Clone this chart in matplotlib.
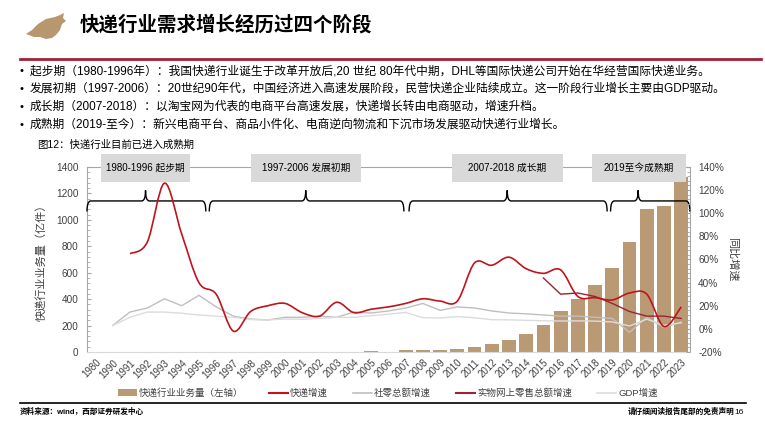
import numpy as np
import matplotlib
matplotlib.use('Agg')
import matplotlib.pyplot as plt
from matplotlib.path import Path
from matplotlib.patches import PathPatch, Patch, Polygon, Rectangle
from matplotlib.lines import Line2D
from matplotlib.ticker import AutoMinorLocator, FuncFormatter

plt.rcParams['font.family'] = ['Liberation Sans', 'Noto Sans CJK SC']

nan = np.nan

years = ['1980', '1990', '1991', '1992', '1993', '1994', '1995', '1996', '1997',
         '1998', '1999', '2000', '2001', '2002', '2003', '2004', '2005', '2006',
         '2007', '2008', '2009', '2010', '2011', '2012', '2013', '2014', '2015',
         '2016', '2017', '2018', '2019', '2020', '2021', '2022', '2023']

# 快递业务量 (亿件)
volume = [nan] * 16 + [9, nan,
          12.0, 15.1, 18.6, 23.4, 36.7, 56.9, 91.9, 139.6, 206.7,
          312.8, 400.6, 507.1, 635.2, 833.6, 1083.0, 1105.8, 1320.7]

# growth rates, %
express_growth = [nan, nan,
                  65, 75, 126, 82, 40, 30, -2,
                  15, 20, 22, 14, 11, 23, 14, 17, 19,
                  22, 26, 24, 24, 57, 55, 62, 52, 48,
                  51, 28, 27, 25, 31, 30, 2, 19]
retail_growth = [nan,
                 3, 14.6, 18, 26, 20, 29, 19, 11,
                 8.5, 7.7, 10, 10, 11, 10, 14.6, 13.7, 15.5,
                 18, 22, 16, 19, 18, 15.5, 13.7, 13, 12,
                 11, 11, 10, 9, -3, 10, 1, 6]
online_growth = [nan] * 26 + [44, 30, 31, 28, 22, 15, 11, 11, 9]
gdp_growth = [nan,
              3, 10, 14.5, 14.5, 13.5, 12, 11, 10,
              8, 7.7, 8.5, 8.3, 9, 10, 10, 11.4, 12.7,
              14.2, 9.7, 9.4, 10.6, 9.6, 7.9, 7.8, 7.4, 7,
              6.8, 6.9, 6.7, 6, 2.5, 8.4, 3, 5.2]

stage_labels = ['1980-1996 起步期', '1997-2006 发展初期', '2007-2018 成长期', '2019至今成熟期']

bullets = [
    '起步期（1980-1996年）：我国快递行业诞生于改革开放后,20 世纪 80年代中期，DHL等国际快递公司开始在华经营国际快递业务。',
    '发展初期（1997-2006）：20世纪90年代，中国经济进入高速发展阶段，民营快递企业陆续成立。这一阶段行业增长主要由GDP驱动。',
    '成长期（2007-2018）：以淘宝网为代表的电商平台高速发展，快递增长转由电商驱动，增速升档。',
    '成熟期（2019-至今）：新兴电商平台、商品小件化、电商逆向物流和下沉市场发展驱动快递行业增长。',
]

TAN = '#BA9A74'
RED = '#C0141C'
DARKRED = '#9B2335'
GRAY = '#BFBFBF'
LIGHT = '#DCDCDC'
TXT = '#404040'


def smooth_path(xs, ys):
    # catmull-rom style bezier through the points, like excel's smoothed line
    pts = [(x, y) for x, y in zip(xs, ys) if not np.isnan(y)]
    verts = [pts[0]]
    codes = [Path.MOVETO]
    n = len(pts)
    for i in range(n - 1):
        p0 = pts[i - 1] if i > 0 else pts[i]
        p1 = pts[i]
        p2 = pts[i + 1]
        p3 = pts[i + 2] if i + 2 < n else pts[i + 1]
        c1 = (p1[0] + (p2[0] - p0[0]) / 6, p1[1] + (p2[1] - p0[1]) / 6)
        c2 = (p2[0] - (p3[0] - p1[0]) / 6, p2[1] - (p3[1] - p1[1]) / 6)
        verts += [c1, c2, p2]
        codes += [Path.CURVE4] * 3
    return Path(verts, codes)


def brace(ax, x0, x1, xm, y, h, dx=0.22):
    verts = [(x0, y - h), (x0, y), (x0 + dx, y),
             (xm - dx, y), (xm, y), (xm, y + h),
             (xm, y), (xm + dx, y),
             (x1 - dx, y), (x1, y), (x1, y - h)]
    codes = [Path.MOVETO, Path.CURVE3, Path.CURVE3,
             Path.LINETO, Path.CURVE3, Path.CURVE3,
             Path.CURVE3, Path.CURVE3,
             Path.LINETO, Path.CURVE3, Path.CURVE3]
    ax.add_patch(PathPatch(Path(verts, codes), fill=False, lw=1.0,
                           edgecolor='black', clip_on=False, zorder=5))


W, H = 765, 425
fig = plt.figure(figsize=(7.65, 4.25), dpi=100)

# header
logo = [(26, 34), (32, 30), (38, 24), (46, 19), (55, 17), (60, 15), (64, 13), (63, 18),
        (66, 21), (62, 24), (60, 30), (56, 35), (52, 38), (46, 39), (40, 37), (34, 37)]
fig.patches.append(Polygon([(a / W, 1 - b / H) for a, b in logo], closed=True,
                           transform=fig.transFigure, facecolor='#B9976E', edgecolor='none'))
fig.text(0.104, 0.941, '快递行业需求增长经历过四个阶段', fontsize=14, fontweight='bold',
         va='center', ha='left', color='black')
fig.add_artist(Line2D([0.026, 0.995], [0.862, 0.862], transform=fig.transFigure,
                      color='#A31F34', lw=2))

for i, line in enumerate(bullets):
    yy = 1 - (71 + i * 18) / H
    fig.text(0.026, yy, '•', fontsize=8, va='center', ha='left', color='black')
    fig.text(0.039, yy, line, fontsize=8.45, va='center', ha='left', color='black')

fig.text(0.048, 1 - 145 / H, '图12：快递行业目前已进入成熟期', fontsize=7.5,
         va='center', ha='left', color='black')

# chart
ax = fig.add_axes([0.1137, 0.1718, 0.788, 0.4353])
x = np.arange(len(years))
ax.bar(x, volume, width=0.8, color=TAN, zorder=2)
ax.set_xlim(-0.5, len(years) - 0.5)
ax.set_ylim(0, 1400)
ax.set_yticks(np.arange(0, 1401, 200))
ax.yaxis.set_minor_locator(AutoMinorLocator(5))
ax.set_xticks(x)
ax.set_xticklabels(years, rotation=45, ha='right', rotation_mode='anchor',
                   fontsize=7, color=TXT)
ax.tick_params(axis='x', length=0, pad=4)
ax.tick_params(axis='y', which='major', labelsize=7.2, labelcolor=TXT,
               color='#A6A6A6', length=3, direction='in', pad=6)
ax.tick_params(axis='y', which='minor', color='#A6A6A6', length=2, direction='in')
ax.set_ylabel('快递行业业务量（亿件）', fontsize=8, color=TXT, labelpad=7)
for side in ['left', 'top', 'right']:
    ax.spines[side].set_color('#A6A6A6')
    ax.spines[side].set_linewidth(0.8)
ax.spines['bottom'].set_color('#D9D9D9')

ax2 = ax.twinx()
ax2.set_ylim(-20, 140)
ax2.set_yticks(np.arange(-20, 141, 20))
ax2.yaxis.set_minor_locator(AutoMinorLocator(5))
ax2.yaxis.set_major_formatter(FuncFormatter(lambda v, p: '%d%%' % v))
ax2.tick_params(axis='y', which='major', labelsize=7.2, labelcolor=TXT,
                color='#A6A6A6', length=3, direction='in', pad=6)
ax2.tick_params(axis='y', which='minor', color='#A6A6A6', length=2, direction='in')
ax2.set_ylabel('同比增速', fontsize=8, color=TXT, rotation=270, labelpad=10)
for side in ['left', 'top', 'right', 'bottom']:
    ax2.spines[side].set_visible(False)

ax2.plot(x, retail_growth, color=GRAY, lw=1.0, zorder=3)
ax2.plot(x, gdp_growth, color=LIGHT, lw=1.0, zorder=3)
ax2.plot(x, online_growth, color=DARKRED, lw=1.0, zorder=4)
ax2.add_patch(PathPatch(smooth_path(x, express_growth), fill=False,
                        edgecolor=RED, lw=1.2, zorder=5))

# stage boxes (pixel extents) and braces
box_px = [(101, 190), (251, 361), (452, 563), (592, 686)]
for (b0, b1), lab in zip(box_px, stage_labels):
    fig.patches.append(Rectangle((b0 / W, 1 - 182 / H), (b1 - b0) / W, 28 / H,
                                 transform=fig.transFigure, facecolor='#D9D9D9',
                                 edgecolor='none', zorder=6))
    fig.text((b0 + b1) / 2 / W, 1 - 168 / H, lab, fontsize=7, ha='center', va='center',
             color='black', zorder=7)

brace_spans = [(-0.5, 6.4, 2.9), (6.6, 17.9, 12.2), (18.2, 29.7, 23.9), (29.9, 34.5, 31.5)]
for b0, b1, bm in brace_spans:
    brace(ax, b0, b1, bm, 1143, 80)

# legend
handles = [Patch(facecolor=TAN, edgecolor='none'),
           Line2D([], [], color=RED, lw=1.5),
           Line2D([], [], color=GRAY, lw=1.2),
           Line2D([], [], color=DARKRED, lw=1.5),
           Line2D([], [], color=LIGHT, lw=1.2)]
labels = ['快递行业业务量（左轴）', '快递增速', '社零总额增速', '实物网上零售总额增速', 'GDP增速']
fig.legend(handles, labels, loc='center', bbox_to_anchor=(0.507, 0.075), ncol=5,
           frameon=False, fontsize=6.8, handlelength=2.0, handletextpad=0.2,
           columnspacing=2.7, labelcolor=TXT)

# footer
fig.add_artist(Line2D([0.026, 0.975], [1 - 403 / H, 1 - 403 / H],
                      transform=fig.transFigure, color='black', lw=1.2))
fig.text(0.026, 1 - 412 / H, '资料来源：wind，西部证券研发中心', fontsize=5.5,
         fontweight='bold', va='center', ha='left')
fig.text(0.821, 1 - 412 / H, '请仔细阅读报告尾部的免责声明', fontsize=5.5,
         fontweight='bold', va='center', ha='left')
fig.text(0.960, 1 - 412 / H, '16', fontsize=6, va='center', ha='left')

fig.savefig('out.png', dpi=100)
